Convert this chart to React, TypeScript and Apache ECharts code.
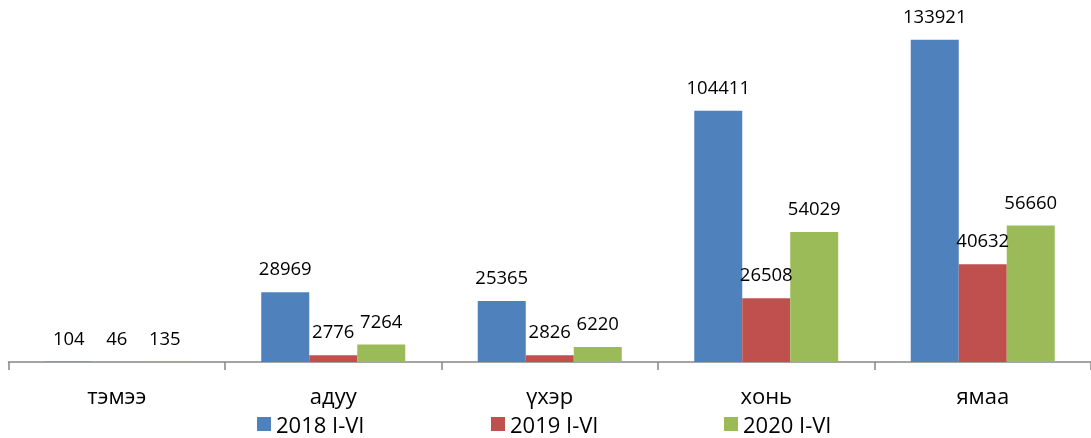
import React, { useEffect, useRef } from "react";
import * as echarts from "echarts";

const categories = ["тэмээ", "адуу", "үхэр", "хонь", "ямаа"];
const seriesNames = ["2018 I-VI", "2019 I-VI", "2020 I-VI"];
const values2018 = [104, 28969, 25365, 104411, 133921];
const values2019 = [46, 2776, 2826, 26508, 40632];
const values2020 = [135, 7264, 6220, 54029, 56660];
const colors = ["#4F81BD", "#C0504D", "#9BBB59"];

export default function App() {
  const ref = useRef<HTMLDivElement>(null);
  useEffect(() => {
    if (!ref.current) return;
    const chart = echarts.init(ref.current, null, { renderer: "svg" });
    const font = "'Open Sans', sans-serif";
    const data = [values2018, values2019, values2020];
    const legendLefts = [257, 491, 724];
    chart.setOption({
      animation: false,
      textStyle: { fontFamily: font },
      grid: { left: 8.5, right: -2.5, top: 25, bottom: 76, containLabel: false },
      legend: seriesNames.map((n, i) => ({
        data: [n],
        left: legendLefts[i],
        top: 413,
        itemWidth: 14,
        itemHeight: 14,
        itemGap: 0,
        icon: "rect",
        textStyle: { fontSize: 22, color: "#000", fontFamily: font, padding: [0, 0, 0, 0] },
        padding: 0,
      })),
      xAxis: {
        type: "category",
        data: categories,
        axisLine: { lineStyle: { color: "#868686", width: 1.5 } },
        axisTick: { show: true, length: 8, lineStyle: { color: "#868686", width: 1.5 } },
        axisLabel: { fontSize: 22, color: "#000", margin: 22, fontFamily: font },
      },
      yAxis: {
        type: "value",
        min: 0,
        max: 140000,
        show: false,
        splitLine: { show: false },
      },
      series: seriesNames.map((n, i) => ({
        name: n,
        type: "bar",
        data: data[i],
        barWidth: 48,
        barGap: "0%",
        itemStyle: { color: colors[i] },
        label: {
          show: true,
          position: "top",
          distance: 15,
          fontSize: 18.5,
          color: "#000",
          fontFamily: font,
        },
      })),
    });
    return () => chart.dispose();
  }, []);
  return (
    <div
      ref={ref}
      style={{ position: "fixed", left: 0, top: 0, width: 1091, height: 438 }}
    />
  );
}
